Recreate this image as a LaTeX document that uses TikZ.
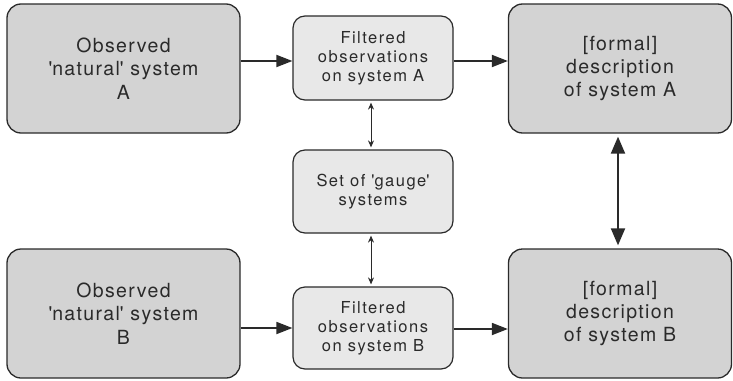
\documentclass[tikz,border=0pt]{standalone}
\usepackage{fontspec}
\setmainfont{TeX Gyre Heros}
\newfontfamily\bigspaced{TeX Gyre Heros}[LetterSpace=7]
\newfontfamily\smallspaced{TeX Gyre Heros}[LetterSpace=9]
\usetikzlibrary{arrows.meta}
\definecolor{bigfill}{HTML}{D3D3D3}
\definecolor{smallfill}{HTML}{E8E8E8}
\definecolor{edge}{HTML}{2A2A2A}
\newcommand{\sq}{\textquotesingle}
\tikzset{
  bigbox/.style={draw=edge, line width=1.3pt, fill=bigfill, rounded corners=14pt, align=center, font=\bigspaced\fontsize{19.5}{23.3}\selectfont, text=edge, inner sep=0pt},
  smallbox/.style={draw=edge, line width=1.2pt, fill=smallfill, rounded corners=12pt, align=center, font=\smallspaced\fontsize{16.5}{19.2}\selectfont, text=edge, inner sep=0pt},
  mainarrow/.style={draw=edge, line width=1.8pt, -{Triangle[length=16pt,width=12pt]}},
  thinarrow/.style={draw=edge, line width=1pt, {Stealth[length=7pt,width=6pt]}-{Stealth[length=7pt,width=6pt]}},
  thickarrow/.style={draw=edge, line width=2pt, {Triangle[length=17pt,width=14pt]}-{Triangle[length=17pt,width=14pt]}}
}
\begin{document}
\begin{tikzpicture}[x=1pt,y=-1pt]
\useasboundingbox (0,0) rectangle (733,380);
\node[bigbox, minimum width=233pt, minimum height=129pt] (natA) at (123.5,68.5) {Observed\\\sq natural\sq\ system\\A};
\node[smallbox, minimum width=160pt, minimum height=84pt] (filA) at (373,58) {Filtered\\observations\\on system A};
\node[bigbox, minimum width=223pt, minimum height=129pt] (forA) at (620,68.5) {[formal]\\description\\of system A};
\node[smallbox, minimum width=160pt, minimum height=83pt] (gauge) at (373,191.5) {Set of \sq gauge\sq\\systems};
\node[bigbox, minimum width=233pt, minimum height=129pt] (natB) at (123.5,313.5) {Observed\\\sq natural\sq\ system\\B};
\node[smallbox, minimum width=160pt, minimum height=82pt] (filB) at (373,328) {Filtered\\observations\\on system B};
\node[bigbox, minimum width=223pt, minimum height=129pt] (forB) at (620,313.5) {[formal]\\description\\of system B};
\draw[mainarrow] (natA.east |- 0,61) -- (filA.west |- 0,61);
\draw[mainarrow] (filA.east |- 0,61) -- (forA.west |- 0,61);
\draw[mainarrow] (natB.east |- 0,328) -- (filB.west |- 0,328);
\draw[mainarrow] (filB.east |- 0,329) -- (forB.west |- 0,329);
\draw[thinarrow] ([yshift=-2pt]filA.south -| 371,0) -- ([yshift=2pt]gauge.north -| 371,0);
\draw[thinarrow] ([yshift=-2pt]gauge.south -| 371,0) -- ([yshift=2pt]filB.north -| 371,0);
\draw[thickarrow] ([yshift=-3pt]forA.south -| 618,0) -- ([yshift=3pt]forB.north -| 618,0);
\end{tikzpicture}
\end{document}
